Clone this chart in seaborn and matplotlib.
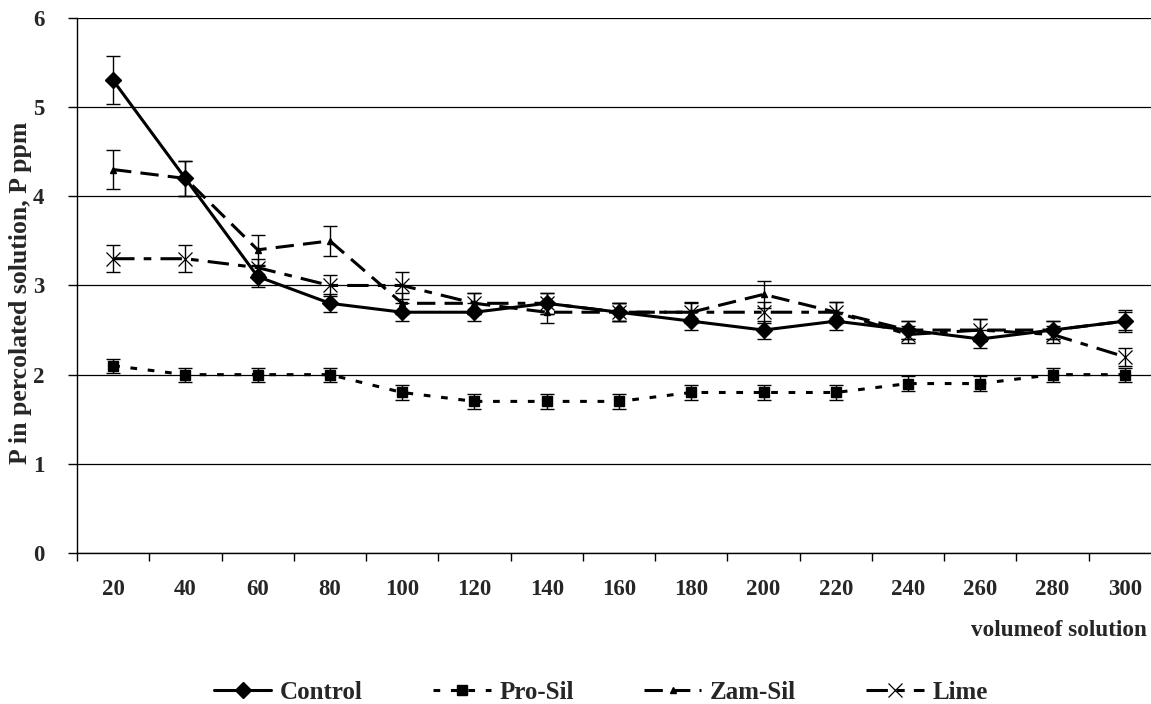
import numpy as np
import pandas as pd
import matplotlib
matplotlib.use("Agg")
import matplotlib.pyplot as plt
import seaborn as sns

sns.set_style("white")
plt.rcParams['font.family'] = ['Liberation Serif', 'DejaVu Serif']
plt.rcParams['font.weight'] = 'bold'

volume = [20, 40, 60, 80, 100, 120, 140, 160, 180, 200, 220, 240, 260, 280, 300]

control = [5.3, 4.2, 3.1, 2.8, 2.7, 2.7, 2.8, 2.7, 2.6, 2.5, 2.6, 2.5, 2.4, 2.5, 2.6]
pro_sil = [2.1, 2.0, 2.0, 2.0, 1.8, 1.7, 1.7, 1.7, 1.8, 1.8, 1.8, 1.9, 1.9, 2.0, 2.0]
zam_sil = [4.3, 4.2, 3.4, 3.5, 2.8, 2.8, 2.7, 2.7, 2.7, 2.9, 2.7, 2.5, 2.5, 2.5, 2.6]
lime = [3.3, 3.3, 3.2, 3.0, 3.0, 2.8, 2.8, 2.7, 2.7, 2.7, 2.7, 2.45, 2.5, 2.45, 2.2]

control_err = [0.27, 0.2, 0.12, 0.1, 0.1, 0.1, 0.12, 0.1, 0.1, 0.1, 0.1, 0.1, 0.1, 0.1, 0.12]
pro_sil_err = [0.08] * 15
zam_sil_err = [0.22, 0.2, 0.17, 0.17, 0.12, 0.12, 0.12, 0.1, 0.1, 0.15, 0.12, 0.1, 0.12, 0.1, 0.1]
lime_err = [0.15, 0.15, 0.1, 0.12, 0.15, 0.12, 0.12, 0.1, 0.12, 0.12, 0.12, 0.1, 0.12, 0.1, 0.1]

series = {
    "Control": (control, control_err),
    "Pro-Sil": (pro_sil, pro_sil_err),
    "Zam-Sil": (zam_sil, zam_sil_err),
    "Lime": (lime, lime_err),
}

rows = []
for name, (vals, errs) in series.items():
    for v, y, e in zip(volume, vals, errs):
        rows.append({"volume": v, "P": y, "err": e, "treatment": name})
df = pd.DataFrame(rows)

styles = {
    "Control": dict(dashes=None, marker="D", ms=8, mew=1, lw=2.2),
    "Pro-Sil": dict(dashes=(2.2, 3.5), marker="s", ms=7, mew=1, lw=2.2),
    "Zam-Sil": dict(dashes=(6, 3), marker="^", ms=5, mew=1, lw=2.2),
    "Lime": dict(dashes=(7, 3, 2.5, 3), marker="x", ms=10, mew=0.9, lw=2.2),
}

fig = plt.figure(figsize=(11.51, 7.04), dpi=100)
# right end of the category axis runs slightly past the image edge, as in the original
ax = fig.add_axes([0.0669, 0.2145, 0.9418, 0.760])

for name in series:
    sub = df[df.treatment == name]
    st = styles[name]
    sns.lineplot(data=sub, x="volume", y="P", ax=ax, color="black", lw=st["lw"],
                 marker=st["marker"], markersize=st["ms"], markeredgewidth=st["mew"],
                 markeredgecolor="black", label=name, errorbar=None,
                 dashes=False, sort=False, zorder=3)
    line = ax.lines[-1]
    if st["dashes"] is not None:
        line.set_dashes(st["dashes"])
    ax.errorbar(sub.volume, sub.P, yerr=sub.err, fmt="none", ecolor="black",
                elinewidth=1, capsize=5, capthick=1, zorder=2)

ax.set_ylim(0, 6)
ax.set_xlim(10, 310)
ax.set_yticks(range(0, 7))
ax.yaxis.grid(True, color="black", lw=0.9)
ax.set_axisbelow(True)
ax.set_xticks(volume)
ax.set_xticklabels([str(v) for v in volume])
ax.set_xticks(np.arange(10, 320, 20), minor=True)
ax.tick_params(axis="x", which="major", length=0, labelsize=16.5, pad=19)
ax.tick_params(axis="x", which="minor", length=6, width=1, color="black", direction="out", bottom=True)
ax.tick_params(axis="y", length=6.5, width=1, color="black", direction="out", labelsize=16.5,
               pad=17, left=True)
for lab in ax.get_xticklabels() + ax.get_yticklabels():
    lab.set_fontweight("bold")

for s in ["top", "right"]:
    ax.spines[s].set_visible(False)
for s in ["left", "bottom"]:
    ax.spines[s].set_color("black")
    ax.spines[s].set_linewidth(1)

ax.set_ylabel("")
ax.set_xlabel("")
fig.text(0.018, 0.584, "P in percolated solution, P ppm", rotation=90, ha="center", va="center",
         fontsize=18.5, fontweight="bold")
fig.text(0.9965, 0.105, "volumeof solution", ha="right", va="center", fontsize=16.7, fontweight="bold")

handles, labels = ax.get_legend_handles_labels()
ax.get_legend().remove()
fig.legend(handles[:4], labels[:4], loc="center", bbox_to_anchor=(0.522, 0.017),
           ncol=4, frameon=False, handlelength=2.3, handletextpad=0.35, columnspacing=2.8,
           prop={"weight": "bold", "size": 18})

fig.savefig("out.png", dpi=100)
